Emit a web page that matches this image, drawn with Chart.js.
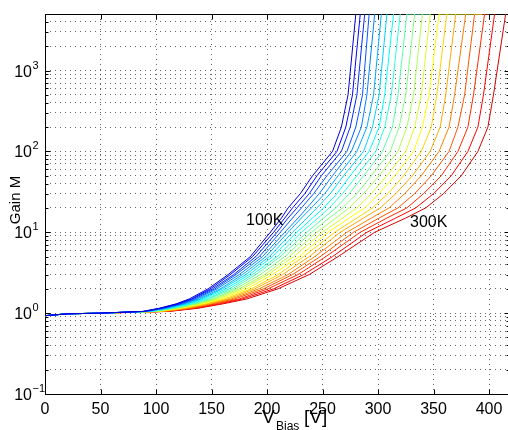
<!DOCTYPE html>
<html>
<head>
<meta charset="utf-8">
<script src="https://cdn.jsdelivr.net/npm/chart.js"></script>
<style>
  html, body { margin: 0; padding: 0; background: #fff; overflow: hidden; }
  #wrap { width: 510px; height: 430px; }
</style>
</head>
<body>
<div id="wrap"><canvas id="chart" width="510" height="430"></canvas></div>
<script>
const TEMPERATURES = [100, 110, 120, 130, 140, 150, 160, 170, 180, 190, 200,
  210, 220, 230, 240, 250, 260, 270, 280, 290, 300];

// all curves share the flat start below unity gain
const BASE_VOLTS = [0, 20, 50];
const BASE_GAIN = [0.93, 0.98, 1.0];

// gain levels, and the bias voltage where each curve reaches them (one row per temperature)
const GAIN_LEVELS = [1.05, 1.15, 1.3, 1.5, 2, 3, 5, 10, 15, 20, 30, 50, 100, 200, 500, 5000];
const VOLTS_AT_GAIN = [
  [88, 103, 118, 130, 147, 165, 185, 203, 213, 219, 230, 241, 259, 267, 273, 280],
  [89, 104, 119, 132, 149, 167, 187, 206, 216, 223, 234, 245, 263, 271, 277, 284],
  [89, 105, 121, 133, 151, 170, 190, 209, 219, 227, 238, 249, 267, 275, 281, 288],
  [90, 106, 122, 135, 153, 172, 193, 212, 223, 231, 242, 254, 272, 280, 286, 292],
  [91, 108, 124, 137, 155, 175, 196, 216, 228, 236, 247, 259, 276, 285, 290, 297],
  [92, 109, 125, 139, 158, 178, 199, 219, 231, 240, 252, 264, 281, 290, 296, 303],
  [93, 110, 127, 141, 160, 181, 202, 223, 236, 245, 257, 269, 287, 295, 301, 308],
  [94, 112, 129, 143, 163, 184, 205, 227, 241, 251, 263, 275, 292, 301, 306, 314],
  [95, 113, 131, 146, 166, 187, 209, 231, 246, 256, 268, 281, 298, 306, 312, 320],
  [96, 115, 133, 148, 169, 190, 212, 236, 251, 262, 274, 287, 304, 313, 318, 326],
  [97, 117, 135, 151, 172, 194, 216, 240, 256, 268, 281, 294, 311, 319, 325, 333],
  [99, 119, 137, 153, 175, 198, 220, 245, 262, 274, 287, 301, 318, 326, 332, 340],
  [100, 120, 139, 156, 178, 201, 224, 250, 268, 281, 294, 308, 325, 333, 339, 347],
  [101, 122, 141, 159, 182, 205, 229, 255, 274, 288, 301, 315, 332, 340, 346, 355],
  [103, 124, 144, 162, 186, 210, 233, 261, 281, 295, 309, 323, 339, 348, 353, 362],
  [104, 126, 146, 165, 189, 214, 238, 266, 287, 302, 316, 331, 347, 356, 361, 370],
  [106, 129, 149, 168, 193, 219, 243, 272, 294, 310, 324, 339, 355, 364, 369, 379],
  [107, 131, 151, 171, 197, 223, 248, 278, 301, 318, 333, 348, 364, 372, 378, 387],
  [109, 133, 154, 175, 201, 228, 253, 284, 308, 326, 341, 357, 372, 381, 386, 396],
  [110, 136, 157, 178, 206, 233, 259, 290, 316, 334, 350, 366, 381, 390, 395, 405],
  [112, 138, 160, 182, 210, 238, 264, 297, 325, 343, 359, 375, 390, 399, 404, 415],
];

// a few curves stay saturated along the top edge up to this voltage
const TOP_RUN_END = { 9: 347, 13: 394, 17: 400 };

const X_TICKS = [0, 50, 100, 150, 200, 250, 300, 350, 400];
const Y_DECADES = [-1, 0, 1, 2, 3];
const X_MAX = 418;
const Y_MIN = 0.1;
const Y_MAX = 5000;

const FONT = '"Liberation Sans", Arial, Helvetica, sans-serif';

function jet(i, n) {
  // matlab jet(n): runs from dark blue to dark red
  const x = 1 / 12 + (i / (n - 1)) * (10 / 12);
  const clamp = (a) => Math.max(0, Math.min(1, a));
  const r = clamp(Math.min(4 * x - 1.5, -4 * x + 4.5));
  const g = clamp(Math.min(4 * x - 0.5, -4 * x + 3.5));
  const b = clamp(Math.min(4 * x + 0.5, -4 * x + 2.5));
  return `rgb(${Math.round(r * 255)}, ${Math.round(g * 255)}, ${Math.round(b * 255)})`;
}

function curvePoints(k) {
  const pts = BASE_VOLTS.map((v, i) => ({ x: v, y: BASE_GAIN[i] }));
  VOLTS_AT_GAIN[k].forEach((v, i) => pts.push({ x: v, y: GAIN_LEVELS[i] }));
  if (TOP_RUN_END[k]) pts.push({ x: TOP_RUN_END[k], y: Y_MAX });
  return pts;
}

const frame = {
  id: "frame",
  beforeDatasetsDraw(chart) {
    const { ctx, chartArea: a, scales: { x, y } } = chart;
    const L = Math.round(a.left) + 0.5;
    const R = Math.round(a.right) + 0.5;
    const T = Math.round(a.top) + 0.5;
    const B = Math.round(a.bottom) + 0.5;
    ctx.save();
    ctx.strokeStyle = "#000";
    ctx.lineWidth = 1;
    ctx.strokeRect(L, T, R - L, B - T);
    ctx.beginPath();
    X_TICKS.forEach((v) => {
      const px = Math.round(x.getPixelForValue(v)) + 0.5;
      ctx.moveTo(px, B); ctx.lineTo(px, B - 5);
      ctx.moveTo(px, T); ctx.lineTo(px, T + 5);
    });
    Y_DECADES.forEach((e) => {
      for (let m = 1; m <= 9; m++) {
        const val = m * Math.pow(10, e);
        if (val > Y_MAX) break;
        const py = Math.round(y.getPixelForValue(val)) + 0.5;
        const len = m === 1 ? 5 : 3;
        ctx.moveTo(L, py); ctx.lineTo(L + len, py);
        ctx.moveTo(R, py); ctx.lineTo(R - len, py);
      }
    });
    ctx.stroke();
    ctx.restore();
  },
  afterDraw(chart) {
    const { ctx, scales: { x, y } } = chart;
    ctx.save();
    ctx.fillStyle = "#000";
    ctx.textBaseline = "alphabetic";

    ctx.font = `16px ${FONT}`;
    ctx.textAlign = "center";
    X_TICKS.forEach((v) => ctx.fillText(String(v), x.getPixelForValue(v), 414));

    Y_DECADES.forEach((e) => {
      const py = y.getPixelForValue(Math.pow(10, e));
      ctx.font = `16px ${FONT}`;
      ctx.textAlign = "right";
      ctx.fillText("10", 32, py + 6);
      ctx.font = `11px ${FONT}`;
      ctx.textAlign = "left";
      ctx.fillText(String(e).replace("-", "\u2212"), 32.5, py - 2);
    });

    // axis titles
    ctx.save();
    ctx.translate(20, 200);
    ctx.rotate(-Math.PI / 2);
    ctx.font = `15px ${FONT}`;
    ctx.textAlign = "center";
    ctx.fillText("Gain M", 0, 0);
    ctx.restore();

    ctx.textAlign = "left";
    ctx.font = `19px ${FONT}`;
    ctx.fillText("V", 262, 423);
    ctx.font = `12px ${FONT}`;
    ctx.fillText("Bias", 276, 430);
    ctx.font = `19px ${FONT}`;
    ctx.fillText("[V]", 304, 423);

    // curve labels
    ctx.font = `16px ${FONT}`;
    ctx.fillText("100K", 246, 225);
    ctx.fillText("300K", 410, 227);
    ctx.restore();
  },
};

new Chart(document.getElementById("chart"), {
  type: "line",
  data: {
    datasets: TEMPERATURES.map((t, k) => ({
      label: `${t}K`,
      data: curvePoints(k),
      borderColor: jet(k, TEMPERATURES.length),
      borderWidth: 1,
      pointRadius: 0,
      fill: false,
      tension: 0,
    })),
  },
  options: {
    responsive: false,
    animation: false,
    devicePixelRatio: 1,
    events: [],
    layout: { padding: { left: 45, right: 1, top: 14, bottom: 36 } },
    plugins: { legend: { display: false }, tooltip: { enabled: false } },
    scales: {
      x: {
        type: "linear",
        min: 0,
        max: X_MAX,
        afterBuildTicks: (scale) => { scale.ticks = X_TICKS.map((v) => ({ value: v })); },
        ticks: { display: false },
        grid: { color: "rgba(0,0,0,0.6)", lineWidth: 1, drawTicks: false },
        border: { display: false, dash: [1, 4] },
      },
      y: {
        type: "logarithmic",
        min: Y_MIN,
        max: Y_MAX,
        afterBuildTicks: (scale) => {
          const ticks = [];
          Y_DECADES.forEach((e) => {
            for (let m = 1; m <= 9; m++) {
              const val = m * Math.pow(10, e);
              if (val <= Y_MAX) ticks.push({ value: val });
            }
          });
          scale.ticks = ticks;
        },
        ticks: { display: false },
        grid: { color: "rgba(0,0,0,0.6)", lineWidth: 1, drawTicks: false },
        border: { display: false, dash: [1, 4] },
      },
    },
  },
  plugins: [frame],
});
</script>
</body>
</html>
